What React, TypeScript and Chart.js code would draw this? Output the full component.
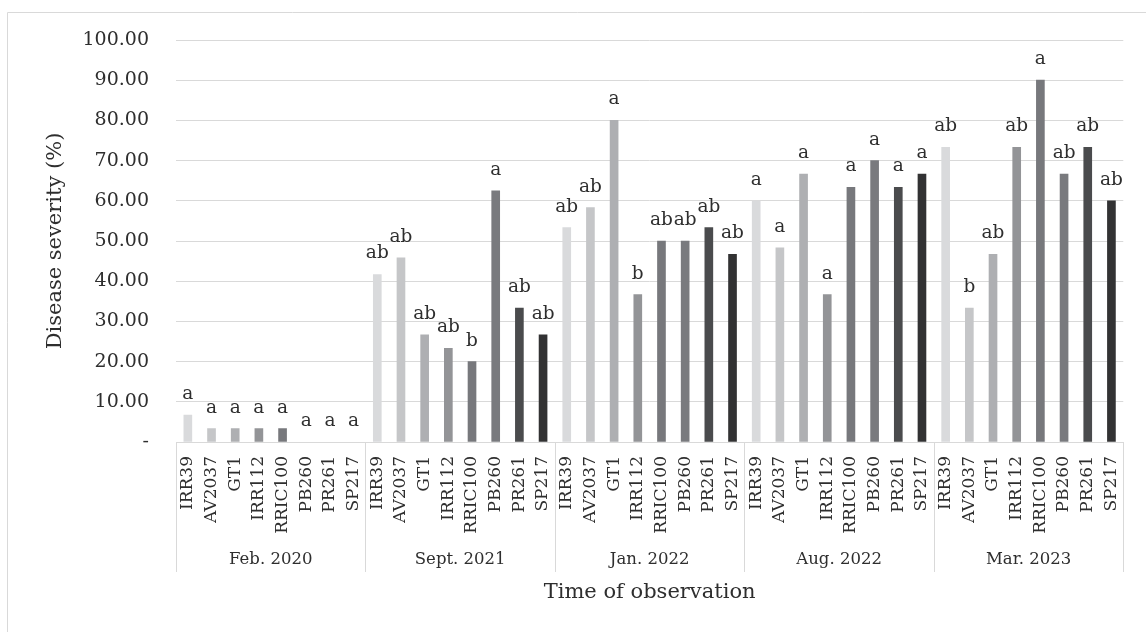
import { useEffect, useRef } from 'react';
import { Chart, registerables } from 'chart.js';

Chart.register(...registerables);

// Observation dates (outer axis level) and rubber clones (inner axis level)
const periods = ['Feb. 2020', 'Sept. 2021', 'Jan. 2022', 'Aug. 2022', 'Mar. 2023'];
const clones = ['IRR39', 'AV2037', 'GT1', 'IRR112', 'RRIC100', 'PB260', 'PR261', 'SP217'];
const cloneColors = ['#d9dadc', '#c5c6c8', '#aeafb2', '#939497', '#77787c', '#797a7e', '#4a4b4d', '#323233'];

// Disease severity (%) per clone, one array per observation date
const feb2020 = [6.67, 3.33, 3.33, 3.33, 3.33, 0, 0, 0];
const sept2021 = [41.67, 45.83, 26.67, 23.33, 20.0, 62.5, 33.33, 26.67];
const jan2022 = [53.33, 58.33, 80.0, 36.67, 50.0, 50.0, 53.33, 46.67];
const aug2022 = [60.0, 48.33, 66.67, 36.67, 63.33, 70.0, 63.33, 66.67];
const mar2023 = [73.33, 33.33, 46.67, 73.33, 90.0, 66.67, 73.33, 60.0];

// Significance letters shown above each bar
const lettersFeb2020 = ['a', 'a', 'a', 'a', 'a', 'a', 'a', 'a'];
const lettersSept2021 = ['ab', 'ab', 'ab', 'ab', 'b', 'a', 'ab', 'ab'];
const lettersJan2022 = ['ab', 'ab', 'a', 'b', 'ab', 'ab', 'ab', 'ab'];
const lettersAug2022 = ['a', 'a', 'a', 'a', 'a', 'a', 'a', 'a'];
const lettersMar2023 = ['ab', 'b', 'ab', 'ab', 'a', 'ab', 'ab', 'ab'];

const severity = [feb2020, sept2021, jan2022, aug2022, mar2023];
const letters = [lettersFeb2020, lettersSept2021, lettersJan2022, lettersAug2022, lettersMar2023];

const categoryLabels = periods.flatMap(() => clones);
const values = severity.flat();
const barLetters = letters.flat();
// zero-severity bars get no visible fill
const barColors = values.map((v, i) => (v === 0 ? 'rgba(0,0,0,0)' : cloneColors[i % clones.length]));

const FONT = "'DejaVu Serif', serif";
const TEXT = '#2e2e2e';
const LINE = '#d9d9d9';

const decorations = {
  id: 'decorations',
  beforeDraw(chart: any) {
    const ctx = chart.ctx;
    ctx.save();
    ctx.strokeStyle = LINE;
    ctx.lineWidth = 1;
    ctx.beginPath();
    ctx.moveTo(7.5, chart.height + 2);
    ctx.lineTo(7.5, 12.5);
    ctx.lineTo(chart.width + 2, 12.5);
    ctx.stroke();
    ctx.restore();
  },
  afterDatasetsDraw(chart: any) {
    const ctx = chart.ctx;
    const meta = chart.getDatasetMeta(0);
    ctx.save();
    ctx.font = `18.5px ${FONT}`;
    ctx.fillStyle = TEXT;
    ctx.textAlign = 'center';
    ctx.textBaseline = 'alphabetic';
    meta.data.forEach((bar: any, i: number) => {
      ctx.fillText(barLetters[i], bar.x, bar.y - 16);
    });
    ctx.restore();
  },
  afterDraw(chart: any) {
    const ctx = chart.ctx;
    const xs = chart.scales.x;
    const area = chart.chartArea;
    const n = clones.length;
    ctx.save();
    ctx.strokeStyle = LINE;
    ctx.lineWidth = 1;
    for (let g = 0; g <= periods.length; g++) {
      const px = Math.round(xs.getPixelForValue(g * n - 0.5)) + 0.5;
      ctx.beginPath();
      ctx.moveTo(px, area.bottom);
      ctx.lineTo(px, 572);
      ctx.stroke();
    }
    ctx.fillStyle = TEXT;
    ctx.textAlign = 'center';
    ctx.textBaseline = 'middle';
    ctx.font = `16.5px ${FONT}`;
    periods.forEach((p, g) => {
      ctx.fillText(p, xs.getPixelForValue(g * n + (n - 1) / 2), 560);
    });
    ctx.font = `21px ${FONT}`;
    ctx.fillText('Time of observation', (area.left + area.right) / 2, 593);
    ctx.restore();
  },
};

export default function App() {
  const canvasRef = useRef<HTMLCanvasElement | null>(null);

  useEffect(() => {
    const canvas = canvasRef.current;
    if (!canvas) return;
    const chart = new Chart(canvas, {
      type: 'bar',
      data: {
        labels: categoryLabels,
        datasets: [
          {
            data: values,
            backgroundColor: barColors,
            borderWidth: 0,
            barThickness: 8,
          },
        ],
      },
      options: {
        responsive: false,
        animation: false,
        layout: { padding: { left: 38, top: 40, right: 14, bottom: 0 } },
        plugins: {
          legend: { display: false },
          tooltip: { enabled: false },
        },
        scales: {
          x: {
            afterFit(scale: any) {
              scale.height = 190;
            },
            grid: { display: false, drawTicks: false },
            border: { display: true, color: LINE, width: 1 },
            ticks: {
              autoSkip: false,
              minRotation: 90,
              maxRotation: 90,
              padding: 14,
              color: TEXT,
              font: { family: FONT, size: 17 },
            },
          },
          y: {
            min: 0,
            max: 100,
            afterFit(scale: any) {
              scale.width = 138;
            },
            grid: { color: LINE, lineWidth: 1, drawTicks: false },
            border: { display: false },
            ticks: {
              stepSize: 10,
              padding: 27,
              color: TEXT,
              font: { family: FONT, size: 19 },
              callback: (v: any) => (Number(v) === 0 ? '-' : Number(v).toFixed(2)),
            },
            title: {
              display: true,
              text: 'Disease severity (%)',
              color: TEXT,
              font: { family: FONT, size: 21 },
              padding: { top: 5, bottom: 0 },
            },
          },
        },
      },
      plugins: [decorations],
    });
    return () => chart.destroy();
  }, []);

  return (
    <div style={{ position: 'fixed', left: 0, top: 0, width: 1146, height: 632, background: '#ffffff' }}>
      <canvas ref={canvasRef} width={1146} height={632} style={{ display: 'block' }} />
    </div>
  );
}
